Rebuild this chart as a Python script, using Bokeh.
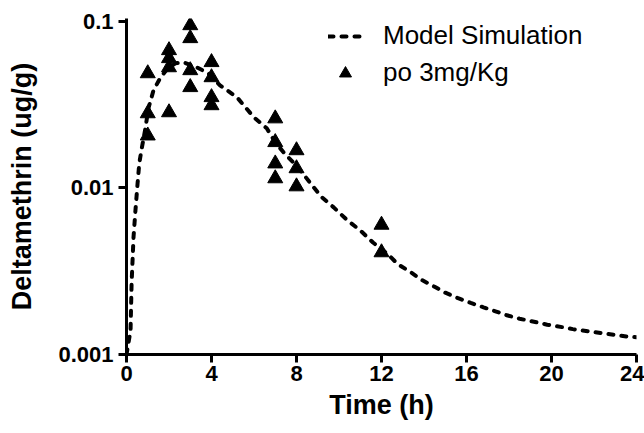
from bokeh.plotting import figure
from bokeh.models import FixedTicker, Legend, LegendItem
from bokeh.embed import file_html
from bokeh.resources import INLINE

# Observed data (po 3mg/Kg)
obs_time = [1, 1, 1, 2, 2, 2, 2, 3, 3, 3, 3, 4, 4, 4, 4, 7, 7, 7, 7, 8, 8, 8, 12, 12]
obs_conc = [0.0487, 0.0280, 0.0206,
            0.0670, 0.0600, 0.0529, 0.0284,
            0.0946, 0.0791, 0.0508, 0.0402,
            0.0568, 0.0461, 0.0350, 0.0313,
            0.0261, 0.0188, 0.0140, 0.0114,
            0.0168, 0.0131, 0.0102,
            0.0060, 0.0041]

# Model simulation
model_time = [0, 0.19, 0.24, 0.33, 0.42, 0.52, 0.6, 0.7, 0.89, 1.03, 1.27, 1.6, 1.93,
              2.3, 2.7, 3.3, 3.86, 4.4, 5.2, 6.0, 6.6, 7.0, 7.4, 7.9, 8.3, 8.75, 9.2,
              9.75, 10.4, 11.0, 11.6, 12.3, 12.75, 13.4, 13.9, 14.5, 15.0, 15.6, 16.2,
              16.8, 17.4, 17.9, 18.5, 19.3, 19.8, 20.5, 21.0, 21.7, 22.4, 23.0, 23.6, 24]
model_conc = [0.001, 0.00139, 0.00267, 0.00505, 0.0073, 0.0106, 0.0140, 0.0168, 0.0228,
              0.030, 0.0385, 0.046, 0.052, 0.056, 0.0567, 0.053, 0.0487, 0.0413, 0.035,
              0.0265, 0.0228, 0.0188, 0.0163, 0.0140, 0.0122, 0.0103, 0.00877, 0.00764,
              0.00638, 0.00556, 0.0047, 0.0040, 0.0035, 0.0031, 0.0028, 0.00255, 0.00235,
              0.00218, 0.00204, 0.00192, 0.00181, 0.00172, 0.00164, 0.00156, 0.00151,
              0.00146, 0.00142, 0.00138, 0.00134, 0.00131, 0.00128, 0.00127]

x_ticks = [0, 4, 8, 12, 16, 20, 24]
y_ticks = [0.001, 0.01, 0.1]
y_tick_labels = {0.001: "0.001", 0.01: "0.01", 0.1: "0.1"}

FONT = "Liberation Sans"

p = figure(width=644, height=433, y_axis_type="log",
           x_range=(0, 24), y_range=(0.001, 0.104),
           output_backend="svg", toolbar_location=None,
           min_border_left=126, min_border_right=8,
           min_border_top=18, min_border_bottom=79)
p.outline_line_color = None
p.xgrid.visible = False
p.ygrid.visible = False
p.background_fill_color = "white"

line_r = p.line(model_time, model_conc, line_color="black", line_width=4,
                line_dash="5 8", line_cap="round")
pts_r = p.scatter(obs_time, obs_conc, marker="triangle", size=15,
                  fill_color="black", line_color="black")

for ax in (p.xaxis[0], p.yaxis[0]):
    ax.axis_line_width = 3
    ax.major_tick_line_width = 3
    ax.major_tick_out = 8
    ax.major_tick_in = 0
    ax.minor_tick_line_color = None
    ax.major_label_text_font = FONT
    ax.major_label_text_font_style = "bold"
    ax.major_label_text_font_size = "22px"
    ax.major_label_text_color = "black"
    ax.axis_label_text_font = FONT
    ax.axis_label_text_font_style = "bold"
    ax.axis_label_text_font_size = "27px"
    ax.axis_label_text_color = "black"

p.xaxis[0].ticker = FixedTicker(ticks=x_ticks)
p.xaxis[0].major_label_standoff = 3
p.xaxis[0].axis_label = "Time (h)"
p.xaxis[0].axis_label_standoff = 6

p.yaxis[0].ticker = FixedTicker(ticks=y_ticks)
p.yaxis[0].major_label_overrides = y_tick_labels
p.yaxis[0].major_label_standoff = 5
p.yaxis[0].axis_label = "Deltamethrin (ug/g)"
p.yaxis[0].axis_label_standoff = 18

legend = Legend(items=[LegendItem(label="Model Simulation", renderers=[line_r]),
                       LegendItem(label="po 3mg/Kg", renderers=[pts_r])],
                location=(202, 266), orientation="vertical")
legend.border_line_alpha = 0
legend.background_fill_alpha = 0
legend.padding = 0
legend.margin = 0
legend.spacing = 6
legend.glyph_width = 34
legend.glyph_height = 30
legend.label_height = 30
legend.label_standoff = 21
legend.label_text_font = FONT
legend.label_text_font_size = "26px"
legend.label_text_color = "black"
p.add_layout(legend, "center")

open("out.html", "w").write(file_html(p, INLINE))
